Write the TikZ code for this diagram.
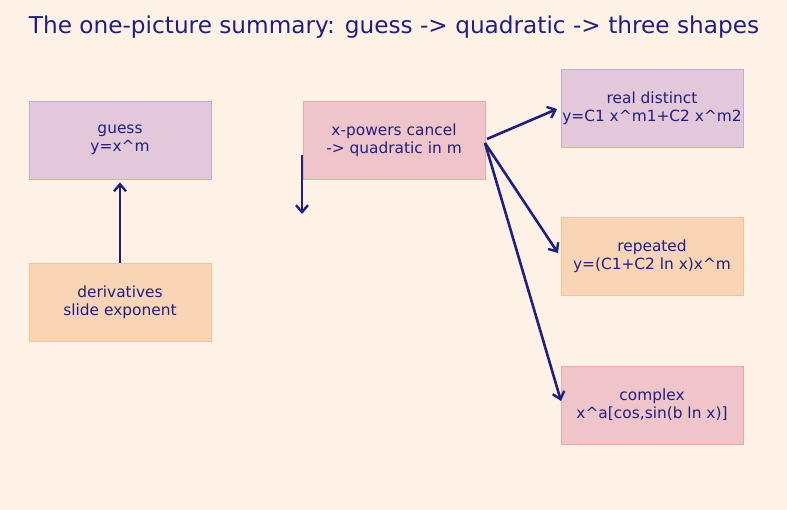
\documentclass[tikz,border=0pt]{standalone}
\usepackage{fontspec}
\setmainfont{DejaVu Sans}
\usetikzlibrary{arrows.meta}
\definecolor{bg}{HTML}{FEF1E6}
\definecolor{ink}{HTML}{1F2080}
\definecolor{lavfill}{HTML}{E2C8D8}
\definecolor{lavline}{HTML}{C2AAD6}
\definecolor{peachfill}{HTML}{F9D5B5}
\definecolor{peachline}{HTML}{F8C28E}
\definecolor{pinkfill}{HTML}{F0C5CA}
\definecolor{pinkline}{HTML}{EBA8AA}
\tikzset{
  box/.style={minimum width=182pt, minimum height=78pt, inner sep=0pt, line width=0.8pt,
    align=center, text=ink, font=\fontsize{15.4}{18}\selectfont,
    execute at begin node={\rule{0pt}{20pt}}},
  lav/.style={box, fill=lavfill, draw=lavline},
  peach/.style={box, fill=peachfill, draw=peachline},
  pink/.style={box, fill=pinkfill, draw=pinkline},
  conn/.style={draw=ink, line width=2.6pt, -{Straight Barb[length=7pt,width=12pt,line width=2.4pt]}},
}
\begin{document}
\begin{tikzpicture}[x=1pt,y=-1pt]
\fill[bg] (0,0) rectangle (787,510);
\useasboundingbox (0,0) rectangle (787,510);
\node[text=ink, font=\fontsize{23.2}{27}\selectfont] (title) at (394,27) {The one-picture summary: guess -> quadratic -> three shapes};
\node[lav] (guess) at (120,140) {guess\\y=x\^{}m};
\node[peach] (deriv) at (120,302) {derivatives\\slide exponent};
\node[pink] (xpow) at (394,140) {x-powers cancel\\-> quadratic in m};
\node[lav] (real) at (652,108) {real distinct\\y=C1 x\^{}m1+C2 x\^{}m2};
\node[peach] (rep) at (652,256) {repeated\\y=(C1+C2 ln x)x\^{}m};
\node[pink] (cplx) at (652,405) {complex\\x\^{}a[cos,sin(b ln x)]};
\coordinate (s1) at (302,155);
\coordinate (e1) at (302,214);
\coordinate (o1) at (487,139);
\coordinate (o2) at (485,143);
\draw[conn] (deriv.north) -- ([yshift=-3pt]guess.south);
\draw[conn] (s1) -- (e1);
\draw[conn] (o1) -- (557,109);
\draw[conn] (o2) -- (558,253);
\draw[conn] (o2) -- (561,401);
\end{tikzpicture}
\end{document}
